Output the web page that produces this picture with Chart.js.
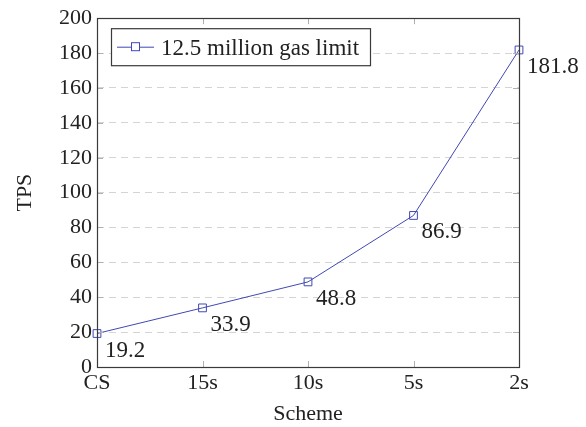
<!DOCTYPE html>
<html><head><meta charset="utf-8">
<script src="https://cdn.jsdelivr.net/npm/chart.js@4/dist/chart.umd.min.js"></script>
<style>html,body{margin:0;padding:0;background:#fff}#wrap{width:586px;height:427px}</style>
</head><body><div id="wrap"><canvas id="c" width="586" height="427"></canvas></div>
<script>
const categories = ["CS", "15s", "10s", "5s", "2s"];
const tpsValues = [19.2, 33.9, 48.8, 86.9, 181.8];
const yTicks = [0, 20, 40, 60, 80, 100, 120, 140, 160, 180, 200];
const seriesName = "12.5 million gas limit";

const FONT = "'Liberation Serif', 'DejaVu Serif', serif";
const BLUE = "rgb(64,72,180)";
const AXIS = "#3a3a3a";

const decor = {
  id: 'decor',
  afterDatasetsDraw(chart) {
    const ctx = chart.ctx, a = chart.chartArea;
    const xs = chart.scales.x, ys = chart.scales.y;
    ctx.save();
    ctx.strokeStyle = '#b0b0b0'; ctx.lineWidth = 1;
    categories.forEach((c, i) => {
      const px = Math.round(xs.getPixelForValue(i)) + 0.5;
      ctx.beginPath();
      ctx.moveTo(px, a.bottom); ctx.lineTo(px, a.bottom - 6);
      ctx.moveTo(px, a.top); ctx.lineTo(px, a.top + 6);
      ctx.stroke();
    });
    yTicks.forEach(v => {
      const py = Math.round(ys.getPixelForValue(v)) + 0.5;
      ctx.beginPath();
      ctx.moveTo(a.left, py); ctx.lineTo(a.left + 6, py);
      ctx.moveTo(a.right, py); ctx.lineTo(a.right - 6, py);
      ctx.stroke();
    });
    ctx.strokeStyle = AXIS; ctx.lineWidth = 1.2;
    ctx.strokeRect(Math.round(a.left) + 0.5, Math.round(a.top) + 0.5, Math.round(a.right - a.left), Math.round(a.bottom - a.top));
    ctx.fillStyle = '#222'; ctx.font = "23px " + FONT;
    ctx.textAlign = 'left'; ctx.textBaseline = 'alphabetic';
    tpsValues.forEach((v, i) => {
      const px = xs.getPixelForValue(i), py = ys.getPixelForValue(v);
      ctx.fillText(v.toFixed(1), px + 8, py + 23);
    });
    const lx = a.left + 14, ly = a.top + 10, lw = 259, lh = 37;
    ctx.fillStyle = '#fff'; ctx.fillRect(lx, ly, lw, lh);
    ctx.strokeStyle = AXIS; ctx.lineWidth = 1.2;
    ctx.strokeRect(lx + 0.5, ly + 0.5, lw, lh);
    const cy = ly + lh / 2 + 0.5;
    ctx.strokeStyle = BLUE; ctx.lineWidth = 1;
    ctx.beginPath(); ctx.moveTo(lx + 6, cy); ctx.lineTo(lx + 43, cy); ctx.stroke();
    ctx.fillStyle = '#fff';
    ctx.fillRect(lx + 20, cy - 4.5, 9, 9);
    ctx.strokeRect(lx + 20.5, cy - 4.5, 8, 8);
    ctx.fillStyle = '#222'; ctx.font = "23px " + FONT;
    ctx.textAlign = 'left'; ctx.textBaseline = 'alphabetic';
    ctx.fillText(seriesName, lx + 50, cy + 8);
    ctx.restore();
  }
};

new Chart(document.getElementById('c'), {
  type: 'line',
  data: {
    labels: categories,
    datasets: [{
      label: seriesName,
      data: tpsValues,
      borderColor: BLUE,
      borderWidth: 1,
      backgroundColor: 'rgba(255,255,255,0)',
      pointStyle: 'rect',
      pointRadius: 5.5,
      pointBorderWidth: 1,
      pointBorderColor: BLUE,
      pointBackgroundColor: 'rgba(255,255,255,0)',
      tension: 0,
      clip: false
    }]
  },
  plugins: [decor],
  options: {
    responsive: false,
    animation: false,
    devicePixelRatio: 1,
    layout: { padding: { left: 0, right: 67, top: 17, bottom: 0 } },
    plugins: { legend: { display: false }, tooltip: { enabled: false } },
    scales: {
      x: {
        type: 'category',
        offset: false,
        grid: { display: false, drawTicks: false },
        border: { display: false },
        ticks: { color: '#222', font: { family: FONT, size: 22 }, padding: 3, maxRotation: 0, autoSkip: false },
        title: { display: true, text: 'Scheme', color: '#222', font: { family: FONT, size: 22 }, padding: { top: 12, bottom: 0 } },
        afterFit(s) { s.height = 60; }
      },
      y: {
        min: 0, max: 200,
        afterBuildTicks(s) { s.ticks = yTicks.map(v => ({ value: v })); },
        grid: { color: '#d4d4d4', lineWidth: 1, drawTicks: false },
        border: { display: false, dash: [7, 5] },
        ticks: { color: '#222', font: { family: FONT, size: 22 }, padding: 5 },
        title: { display: true, text: 'TPS', color: '#222', font: { family: FONT, size: 22 }, padding: { top: 12, bottom: 0 } },
        afterFit(s) { s.width = 97; }
      }
    }
  }
});
</script>
</body></html>
